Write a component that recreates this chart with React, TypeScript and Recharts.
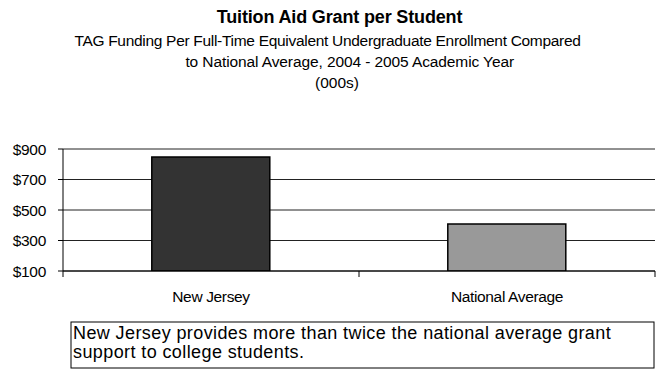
import { BarChart, Bar, Cell, CartesianGrid, XAxis, YAxis } from "recharts";

const categories = ["New Jersey", "National Average"];
const grantPerStudent = [848, 408];
const barColors = ["#333333", "#999999"];
const yTicks = [100, 300, 500, 700, 900];

const titleText = "Tuition Aid Grant per Student";
const subtitleLines = [
    "TAG Funding Per Full-Time Equivalent Undergraduate Enrollment Compared",
    "to National Average, 2004 - 2005 Academic Year",
    "(000s)",
];
const noteLines = [
    "New Jersey provides more than twice the national average grant",
    "support to college students.",
];

const W = 656;
const H = 369;
const FONT = "'Liberation Sans', Arial, Helvetica, sans-serif";

// plot box
const PLOT_LEFT = 63;
const PLOT_RIGHT = 655;
const PLOT_TOP = 149;
const PLOT_BOTTOM = 271;
const CHART_H = 306;
const X_AXIS_H = CHART_H - PLOT_BOTTOM - 4;

const data = categories.map((name, i) => ({ name, value: grantPerStudent[i] }));

function CategoryTick(props: any) {
    const { x, y, payload, index } = props;
    const band = (PLOT_RIGHT - PLOT_LEFT) / categories.length;
    const left = x - band / 2;
    const right = x + band / 2;
    return (
        <g>
            <text
                x={x}
                y={y}
                dy="0.71em"
                textAnchor="middle"
                fill="#000"
                fontSize={15.5}
                fontFamily={FONT}
                letterSpacing={-0.35}
            >
                {payload.value}
            </text>
            <line x1={left} x2={left} y1={PLOT_BOTTOM} y2={PLOT_BOTTOM + 6} stroke="#000" />
            {index === categories.length - 1 && (
                <line x1={right} x2={right} y1={PLOT_BOTTOM} y2={PLOT_BOTTOM + 6} stroke="#000" />
            )}
        </g>
    );
}

export default function App() {
    return (
        <div
            style={{
                position: "absolute",
                left: 0,
                top: 0,
                width: W,
                height: H,
                background: "#fff",
                fontFamily: FONT,
            }}
        >
            <div style={{ position: "absolute", left: 0, top: 0 }}>
                <BarChart
                    width={W}
                    height={CHART_H}
                    data={data}
                    margin={{ top: PLOT_TOP, right: W - PLOT_RIGHT, left: 0, bottom: 4 }}
                    barCategoryGap="30%"
                >
                    <CartesianGrid vertical={false} stroke="#222" strokeOpacity={1} />
                    <XAxis
                        dataKey="name"
                        height={X_AXIS_H}
                        axisLine={{ stroke: "#000" }}
                        tickLine={false}
                        tickSize={6}
                        tickMargin={14}
                        tick={<CategoryTick />}
                        interval={0}
                    />
                    <YAxis
                        width={PLOT_LEFT}
                        domain={[100, 900]}
                        ticks={yTicks}
                        allowDataOverflow
                        axisLine={{ stroke: "#000" }}
                        tickLine={{ stroke: "#000" }}
                        tickSize={5}
                        tickMargin={12}
                        tickFormatter={(v: number) => `$${v}`}
                        tick={{ fill: "#000", fontSize: 15.5, fontFamily: FONT, letterSpacing: -0.3 }}
                    />
                    <Bar dataKey="value" stroke="#000" strokeWidth={1.5} isAnimationActive={false}>
                        {data.map((d, i) => (
                            <Cell key={d.name} fill={barColors[i]} />
                        ))}
                    </Bar>
                </BarChart>
            </div>

            {/* titles + note box */}
            <svg
                width={W}
                height={H}
                style={{ position: "absolute", left: 0, top: 0, pointerEvents: "none" }}
                fontFamily={FONT}
            >
                <text x={339.5} y={23} textAnchor="middle" fontSize={18} fontWeight="bold" letterSpacing={-0.15}>
                    {titleText}
                </text>
                <text x={327.5} y={46} textAnchor="middle" fontSize={15.5} letterSpacing={-0.3}>
                    {subtitleLines[0]}
                </text>
                <text x={349.7} y={67} textAnchor="middle" fontSize={15.5} letterSpacing={-0.1}>
                    {subtitleLines[1]}
                </text>
                <text x={337} y={88} textAnchor="middle" fontSize={15.5}>
                    {subtitleLines[2]}
                </text>

                <rect x={71} y={322} width={583} height={46} fill="none" stroke="#000" />
                <text x={73} y={339} fontSize={18} letterSpacing={0.4}>
                    {noteLines[0]}
                </text>
                <text x={73} y={358} fontSize={18} letterSpacing={0.4}>
                    {noteLines[1]}
                </text>
            </svg>
        </div>
    );
}
